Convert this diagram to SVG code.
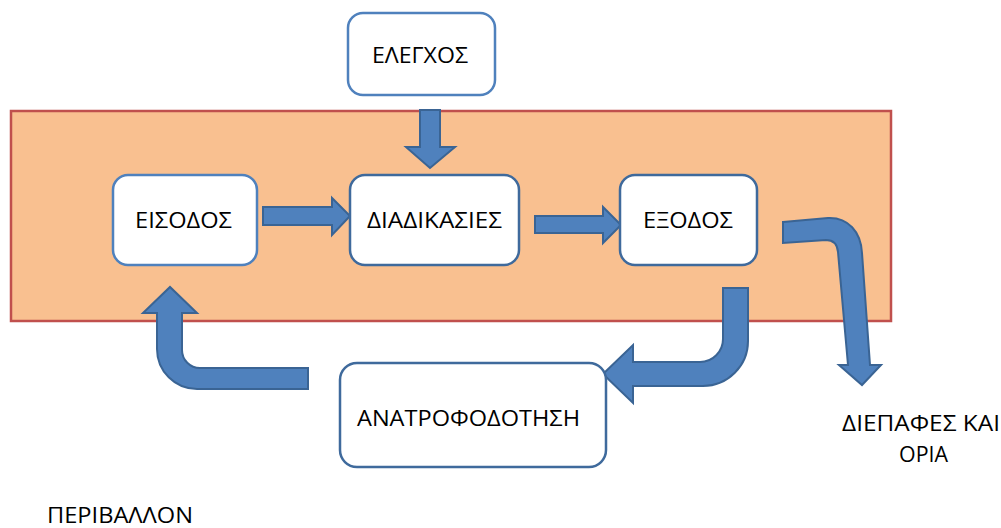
<svg xmlns="http://www.w3.org/2000/svg" width="1001" height="528" viewBox="0 0 1001 528">
<style>
.bg{fill:#FFFFFF}
.env{fill:#F9C090;stroke:#C0504D;stroke-width:2.5}
.boxa{fill:#FFFFFF;stroke:#4F81BD;stroke-width:2.5}
.boxb{fill:#FFFFFF;stroke:#3F6A9C;stroke-width:2.5}
.arr{fill:#4F81BD;stroke:#3A6494;stroke-width:2;stroke-linejoin:miter}
.t{font-family:"Open Sans","Noto Sans","DejaVu Sans",sans-serif;font-size:22px;fill:#000000}
</style>
<rect class="bg" x="0" y="0" width="1001" height="528"/>
<g id="environment">
<rect class="env" x="11" y="111" width="880" height="210"/>
</g>
<g id="connectors">
<path class="arr" d="M420,110 L440,110 L440,147 L455,147 L430,168 L406,147 L420,147 Z"/>
<path class="arr" d="M263,207 L332,207 L332,198 L350,216 L332,235 L332,225 L263,225 Z"/>
<path class="arr" d="M535,216 L603,216 L603,207 L621,225 L603,243 L603,233 L535,233 Z"/>
<path class="arr" d="M308,368 L200,368 A18,18 0 0 1 182,350 L182,313 L197,313 L170,287 L143,313 L157,313 L157,349 A40,40 0 0 0 197,389 L308,389 Z"/>
<path class="arr" d="M723,288 L748,288 L748,341 A45,45 0 0 1 703,386 L633,386 L633,403 L603,374 L633,345 L633,362 L700,362 A23,23 0 0 0 723,339 Z"/>
<path class="arr" d="M783,222 L828,218 C848,217 861,232 862,253 L870,365 L881,365 L862,385 L839,365 L848,365 L838,252 Q837,240 826,240 L783,243 Z"/>
</g>
<g id="elegxos">
<rect class="boxa" x="348" y="13" width="147" height="82" rx="15"/>
<text class="t" x="372" y="63" textLength="96" lengthAdjust="spacingAndGlyphs">ΕΛΕΓΧΟΣ</text>
</g>
<g id="eisodos">
<rect class="boxa" x="113" y="175" width="144" height="90" rx="15"/>
<text class="t" x="135" y="228" textLength="97" lengthAdjust="spacingAndGlyphs">ΕΙΣΟΔΟΣ</text>
</g>
<g id="diadikasies">
<rect class="boxb" x="350" y="175" width="169" height="90" rx="15"/>
<text class="t" x="367" y="228" textLength="135" lengthAdjust="spacingAndGlyphs">ΔΙΑΔΙΚΑΣΙΕΣ</text>
</g>
<g id="exodos">
<rect class="boxb" x="620" y="175" width="137" height="90" rx="15"/>
<text class="t" x="643" y="228" textLength="90" lengthAdjust="spacingAndGlyphs">ΕΞΟΔΟΣ</text>
</g>
<g id="anatrofodotisi">
<rect class="boxb" x="340" y="363" width="266" height="104" rx="17"/>
<text class="t" x="357" y="426" textLength="223" lengthAdjust="spacingAndGlyphs">ΑΝΑΤΡΟΦΟΔΟΤΗΣΗ</text>
</g>
<g id="diepafes">
<text class="t" x="842" y="431" textLength="158" lengthAdjust="spacingAndGlyphs">ΔΙΕΠΑΦΕΣ ΚΑΙ</text>
<text class="t" x="899" y="462" textLength="49" lengthAdjust="spacingAndGlyphs">ΟΡΙΑ</text>
</g>
<g id="perivallon">
<text class="t" x="47" y="523" textLength="146" lengthAdjust="spacingAndGlyphs">ΠΕΡΙΒΑΛΛΟΝ</text>
</g>
</svg>
